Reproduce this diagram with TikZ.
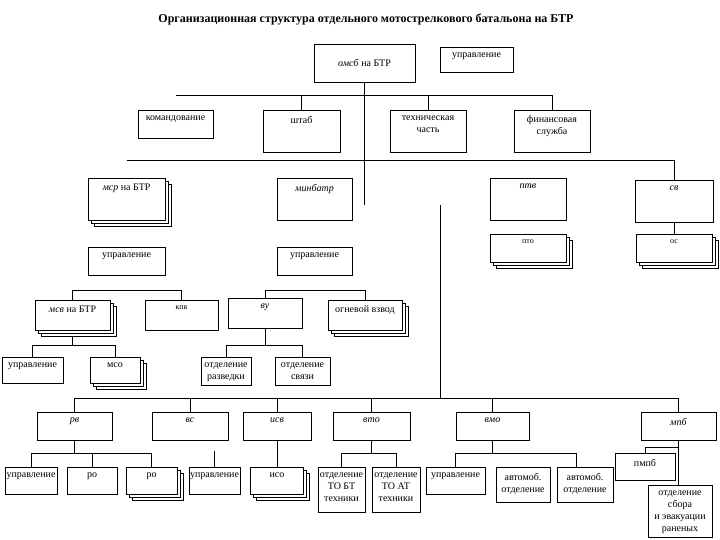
\documentclass[tikz,border=0pt]{standalone}
\usepackage{fontspec}
\setmainfont{Liberation Serif}
\usetikzlibrary{shadows}

\begin{document}
\begin{tikzpicture}[x=1pt, y=-1pt, font=\fontsize{10}{12}\selectfont, line width=0.6pt,
  box/.style={draw, fill=white, inner sep=0pt},
  stack/.style={box, double copy shadow={shadow xshift=3pt, shadow yshift=-3pt}},
  lbl/.style={anchor=north, align=center, inner sep=2pt, yshift=-4pt},
  txt/.style={label={[lbl]north:{#1}}},
  stxt/.style={label={[lbl, font=\footnotesize]north:{#1}}}]
\useasboundingbox (0,0) rectangle (720,540);
\node[font=\fontsize{12}{14}\selectfont\bfseries] (title) at (366,20) {Организационная структура отдельного мотострелкового батальона на БТР};
% battalion and its staff
\node[box, minimum width=101pt, minimum height=38pt] (omsb) at (364.5,63) {\textit{омсб} на БТР};
\node[box, minimum width=73pt, minimum height=25pt, txt=управление] (uprb) at (476.5,59.5) {};
\node[box, minimum width=75pt, minimum height=28pt, txt=командование] (kom) at (175.5,124) {};
\node[box, minimum width=77pt, minimum height=42pt, txt=штаб] (shtab) at (301.5,131) {};
\node[box, minimum width=76pt, minimum height=42pt, txt={техническая\\часть}] (tech) at (428,131) {};
\node[box, minimum width=76pt, minimum height=42pt, txt={финансовая\\служба}] (fin) at (552,131) {};
% companies and platoons
\node[stack, minimum width=77pt, minimum height=42pt, txt={\textit{мср} на БТР}] (msr) at (126.5,199) {};
\node[box, minimum width=75pt, minimum height=42pt, txt=\textit{минбатр}] (minb) at (314.5,199) {};
\node[box, minimum width=76pt, minimum height=42pt, txt=\textit{птв}] (ptv) at (528,199) {};
\node[box, minimum width=78pt, minimum height=42pt, txt=\textit{св}] (sv) at (674,201) {};
\node[stack, minimum width=76pt, minimum height=28pt, stxt=пто] (pto) at (528,248) {};
\node[stack, minimum width=76pt, minimum height=28pt, stxt=ос] (svo) at (674,248) {};
\node[box, minimum width=77pt, minimum height=28pt, txt=управление] (msrupr) at (126.5,261) {};
\node[box, minimum width=75pt, minimum height=28pt, txt=управление] (mbupr) at (314.5,261) {};
\node[stack, minimum width=75pt, minimum height=30pt, txt={\textit{мсв} на БТР}] (msv) at (72.5,315) {};
\node[box, minimum width=73pt, minimum height=30pt, stxt=кпв] (kpv) at (181.5,315) {};
\node[box, minimum width=74pt, minimum height=30pt, txt=\textit{ву}] (vu) at (265,313) {};
\node[stack, minimum width=74pt, minimum height=30pt, txt={огневой взвод}] (ogn) at (365,315) {};
\node[box, minimum width=61pt, minimum height=26pt, txt=управление] (msvupr) at (32.5,370) {};
\node[stack, minimum width=50pt, minimum height=26pt, txt=мсо] (mso) at (115,370) {};
\node[box, minimum width=50pt, minimum height=28pt, txt={отделение\\разведки}] (razv) at (226,371) {};
\node[box, minimum width=55pt, minimum height=28pt, txt={отделение\\связи}] (svz) at (302.5,371) {};
% support units
\node[box, minimum width=75pt, minimum height=28pt, txt=\textit{рв}] (rv) at (74.5,426) {};
\node[box, minimum width=76pt, minimum height=28pt, txt=\textit{вс}] (vs) at (190,426) {};
\node[box, minimum width=68pt, minimum height=28pt, txt=\textit{исв}] (isv) at (277,426) {};
\node[box, minimum width=77pt, minimum height=28pt, txt=\textit{вто}] (vto) at (371.5,426) {};
\node[box, minimum width=73pt, minimum height=28pt, txt=\textit{вмо}] (vmo) at (492.5,426) {};
\node[box, minimum width=75pt, minimum height=28pt, txt=\textit{мпб}] (mpb) at (678.5,426) {};
\node[box, minimum width=52pt, minimum height=27pt, txt=управление] (rvupr) at (31,480.5) {};
\node[box, minimum width=50pt, minimum height=27pt, txt=ро] (ro1) at (92,480.5) {};
\node[stack, minimum width=51pt, minimum height=27pt, txt=ро] (ro2) at (151.5,480.5) {};
\node[box, minimum width=51pt, minimum height=27pt, txt=управление] (vsupr) at (214.5,480.5) {};
\node[stack, minimum width=53pt, minimum height=27pt, txt=исо] (iso) at (277,480.5) {};
\node[box, minimum width=47pt, minimum height=45pt, txt={отделение\\ТО БТ\\техники}] (tobt) at (341.5,489.5) {};
\node[box, minimum width=48pt, minimum height=45pt, txt={отделение\\ТО АТ\\техники}] (toat) at (396,489.5) {};
\node[box, minimum width=59pt, minimum height=27pt, txt=управление] (vmoupr) at (455.5,480.5) {};
\node[box, minimum width=54pt, minimum height=35pt, txt={автомоб.\\отделение}] (avto1) at (523,484.5) {};
\node[box, minimum width=56pt, minimum height=35pt, txt={автомоб.\\отделение}] (avto2) at (585,484.5) {};
\node[box, minimum width=60pt, minimum height=27pt, txt=пмпб] (pmp) at (645,466.5) {};
\node[box, minimum width=64pt, minimum height=52pt, txt={отделение\\сбора\\и эвакуации\\раненых}] (osr) at (680,511) {};
% buses
\coordinate (bus2) at (0,95);
\coordinate (bus3) at (0,160);
\coordinate (bus4) at (0,290);
\coordinate (bus5) at (0,345);
\coordinate (bus6) at (0,398);
\coordinate (bus7) at (0,453);
\coordinate (bus8) at (0,447);
\coordinate (trunkA) at (364.5,205);
\coordinate (trunkB) at (440,205);
\coordinate (vsx) at (214.5,451);
\coordinate (avx) at (576,467);
% connectors
\draw (omsb.south) -- (trunkA);
\draw (kom.north |- bus2) -- (fin.north |- bus2);
\foreach \n in {shtab,tech,fin} \draw (\n.north) -- (\n.north |- bus2);
\draw (msr.north |- bus3) -- (sv.north |- bus3) -- (sv.north);
\draw (sv.south) -- (svo.north);
\draw (msv.north |- bus4) -- (kpv.north |- bus4);
\foreach \n in {msv,kpv} \draw (\n.north) -- (\n.north |- bus4);
\draw (vu.north |- bus4) -- (ogn.north |- bus4);
\foreach \n in {vu,ogn} \draw (\n.north) -- (\n.north |- bus4);
\draw ([yshift=-6pt]msv.south) -- (msv.south |- bus5);
\draw (msvupr.north |- bus5) -- (mso.north |- bus5);
\foreach \n in {msvupr,mso} \draw (\n.north) -- (\n.north |- bus5);
\draw (vu.south) -- (vu.south |- bus5);
\draw (razv.north |- bus5) -- (svz.north |- bus5);
\foreach \n in {razv,svz} \draw (\n.north) -- (\n.north |- bus5);
\draw (trunkB) -- (trunkB |- bus6);
\draw (rv.north |- bus6) -- (mpb.north |- bus6);
\foreach \n in {rv,vs,isv,vto,vmo,mpb} \draw (\n.north) -- (\n.north |- bus6);
\draw (rv.south) -- (rv.south |- bus7);
\draw (rvupr.north |- bus7) -- (ro2.north |- bus7);
\foreach \n in {rvupr,ro1,ro2} \draw (\n.north) -- (\n.north |- bus7);
\draw (vsx) -- (vsupr.north);
\draw (isv.south) -- (iso.north);
\draw (vto.south) -- (vto.south |- bus7);
\draw (tobt.north |- bus7) -- (toat.north |- bus7);
\foreach \n in {tobt,toat} \draw (\n.north) -- (\n.north |- bus7);
\draw (vmo.south) -- (vmo.south |- bus7);
\draw (vmoupr.north) -- (vmoupr.north |- bus7) -- (avx |- bus7) -- (avx);
\draw (mpb.south) -- (osr.north -| mpb.south);
\draw (pmp.north) -- (pmp.north |- bus8) -- (mpb.south |- bus8);
\end{tikzpicture}
\end{document}
